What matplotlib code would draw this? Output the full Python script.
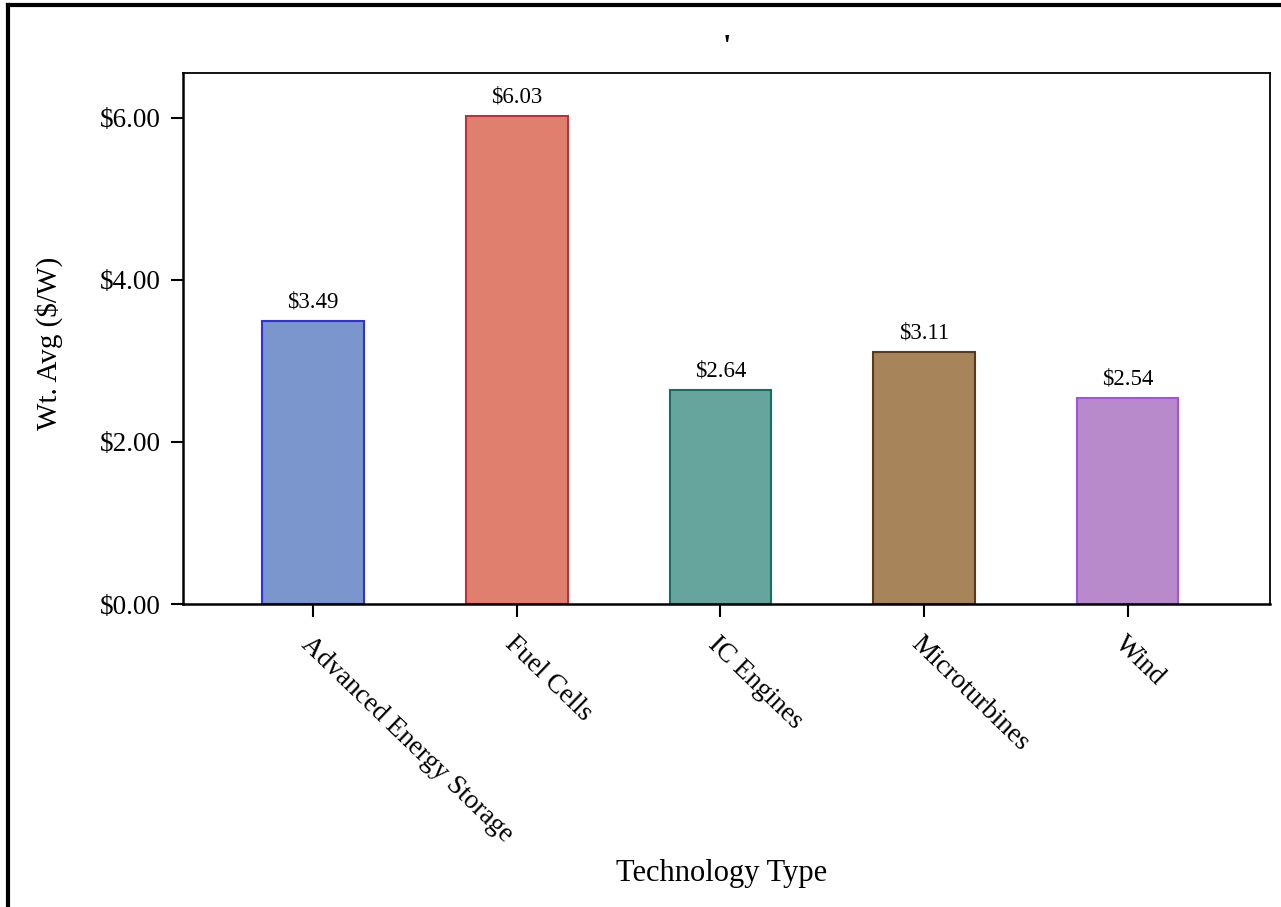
import matplotlib
matplotlib.use("Agg")
import matplotlib.pyplot as plt
from matplotlib.lines import Line2D


categories = ["Advanced Energy Storage", "Fuel Cells", "IC Engines", "Microturbines", "Wind"]
wt_avg = [3.49, 6.03, 2.64, 3.11, 2.54]
fill_colors = ["#7B96CC", "#E07F6E", "#65A59E", "#A8845A", "#B88ACB"]
edge_colors = ["#3030E0", "#C0303A", "#16705F", "#5A3B17", "#A650E0"]
y_ticks = [0, 2, 4, 6]

plt.rcParams["font.family"] = ["Liberation Serif", "DejaVu Serif"]

fig = plt.figure(figsize=(12.81, 9.07), dpi=100)
ax = fig.add_axes([183 / 1281, 1 - 604 / 907, (1270 - 183) / 1281, (604 - 73) / 907])

x = range(len(categories))
bars = ax.bar(x, wt_avg, width=0.5, color=fill_colors, edgecolor=edge_colors, linewidth=1.5)

for b, v in zip(bars, wt_avg):
    ax.annotate(f"${v:.2f}", (b.get_x() + b.get_width() / 2, v),
                xytext=(0, 6), textcoords="offset points",
                ha="center", va="bottom", fontsize=16.5)

ax.set_xlim(-0.64, 4.70)
ax.set_ylim(0, 6.555)
ax.set_yticks(y_ticks)
ax.set_yticklabels([f"${t:.2f}" for t in y_ticks], fontsize=19.5)
ax.set_xticks(list(x))
ax.set_xticklabels(categories, rotation=-44, ha="left", rotation_mode="anchor", fontsize=19.5)
ax.tick_params(axis="both", length=9, width=1.5, direction="out", pad=7)
ax.tick_params(axis="x", pad=11)

for side in ["top", "right"]:
    ax.spines[side].set_linewidth(1.3)
for side in ["bottom", "left"]:
    ax.spines[side].set_linewidth(1.8)

ax.set_xlabel("Technology Type", fontsize=22)
ax.xaxis.set_label_coords(0.495, -0.48)
ax.set_ylabel("Wt. Avg ($/W)", fontsize=21)
ax.yaxis.set_label_coords(-0.11, 0.49)
ax.set_title("'", fontsize=22, pad=12, fontweight="bold")

# frame lines at the top and left edge of the image
fig.add_artist(Line2D([8 / 1281, 1], [1 - 5 / 907, 1 - 5 / 907], color="black", linewidth=3))
fig.add_artist(Line2D([8 / 1281, 8 / 1281], [0, 1 - 5 / 907], color="black", linewidth=3))

fig.savefig("out.png", dpi=100)
